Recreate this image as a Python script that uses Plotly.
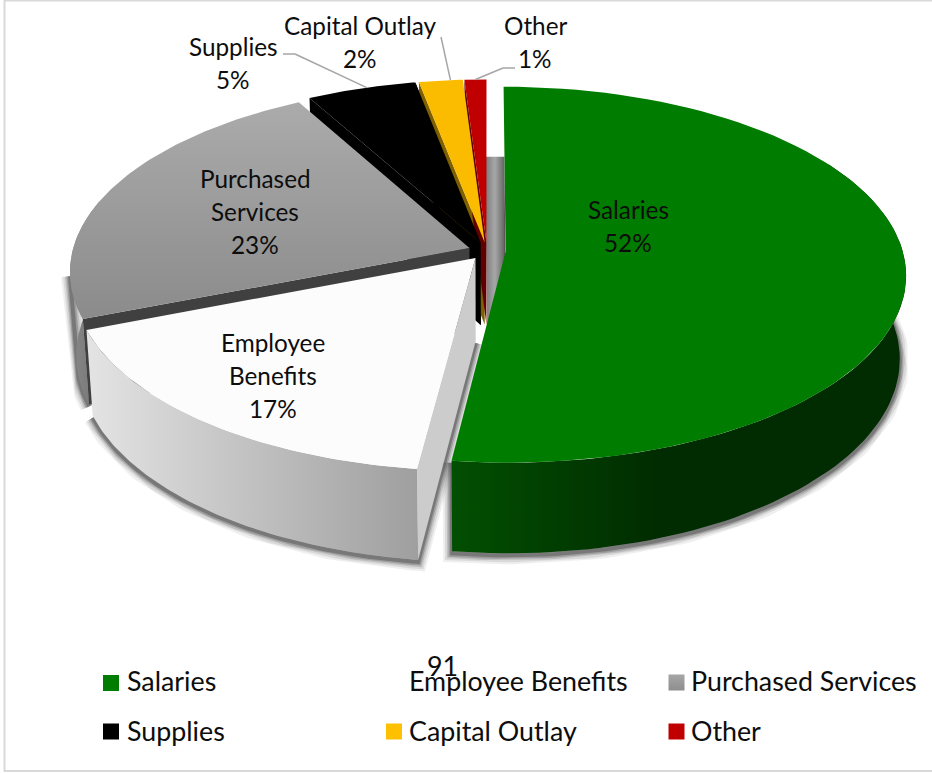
import numpy as np
import plotly.graph_objects as go

# Budget shares by expenditure category
categories = ["Salaries", "Employee Benefits", "Purchased Services", "Supplies", "Capital Outlay", "Other"]
shares = [52, 17, 23, 5, 2, 1]
label_lines = [["Salaries"], ["Employee", "Benefits"], ["Purchased", "Services"],
               ["Supplies"], ["Capital Outlay"], ["Other"]]
footer_text = "91"

# Fill colours
TOP = ["#007d00", "#fcfcfc", None, "#000000", "#fbbc00", "#c00000"]
SWATCH = ["#007d00", "#ffffff", "#a6a6a6", "#000000", "#ffc000", "#c00000"]
FONT = "Lato"
LABEL_SIZE = 24.3
LEGEND_SIZE = 26.8

# Perspective pie geometry, in page pixels
CX, CY = 487.0, 251.0
RX, RY = 397.0, 185.0
DEPTH = 84.0
EXPLODE = 0.047
K_BACK = 0.123
K_DROP = 0.015

cum = np.cumsum([0] + shares) / sum(shares) * 360.0
starts, ends = cum[:-1], cum[1:]


def project(i, theta, r=1.0, z=0.0):
    """Map slice-local polar coordinates to the page; theta runs clockwise from the back."""
    t = np.radians(theta)
    mid = np.radians((starts[i] + ends[i]) / 2)
    x3 = r * np.sin(t) + EXPLODE * np.sin(mid)
    y3 = r * np.cos(t) + EXPLODE * np.cos(mid)
    s = 1.0 / (1.0 + K_BACK * y3 + K_DROP * z)
    return CX + RX * x3 * s, CY - RY * y3 * s + DEPTH * z * s


def arc(i, a, b, z=0.0, n=80):
    return project(i, np.linspace(a, b, n), 1.0, z)


def poly(x, y, color=None, gradient=None):
    kw = dict(fillgradient=gradient) if gradient else dict(fillcolor=color)
    return go.Scatter(x=list(x), y=list(y), mode="lines", fill="toself",
                      line=dict(width=0), hoverinfo="skip", showlegend=False, **kw)


def top_face(i, color=None, gradient=None):
    ax, ay = project(i, starts[i], 0.0)
    x, y = arc(i, starts[i], ends[i])
    return poly(np.r_[ax, x, ax], np.r_[ay, y, ay], color, gradient)


def rim_wall(i, a, b, gradient):
    xt, yt = arc(i, a, b)
    xb, yb = arc(i, a, b, 1.0)
    return poly(np.r_[xt, xb[::-1], xt[0]], np.r_[yt, yb[::-1], yt[0]], gradient=gradient)


def cut_wall(i, theta, color):
    ax, ay = project(i, theta, 0.0)
    bx, by = project(i, theta, 0.0, 1.0)
    rx, ry = project(i, theta, 1.0)
    qx, qy = project(i, theta, 1.0, 1.0)
    return poly([ax, rx, qx, bx, ax], [ay, ry, qy, by, ay], color)


def soft_shadow(x, y):
    """Layered translucent strokes that read as a blurred drop shadow."""
    out = []
    for width, alpha in [(18, 0.07), (14, 0.1), (10, 0.14), (7, 0.2), (4, 0.28)]:
        out.append(go.Scatter(x=list(x), y=list(np.asarray(y) + 2), mode="lines",
                              line=dict(width=width, color=f"rgba(25,25,25,{alpha})"),
                              hoverinfo="skip", showlegend=False))
    return out


def hgrad(*stops):
    return dict(type="horizontal", colorscale=[[p, c] for p, c in stops])


def vgrad(*stops):
    return dict(type="vertical", colorscale=[[p, c] for p, c in stops])


SAL, BEN, PUR, SUP, CAP, OTH = range(6)
traces = []

# Shadow falling on the cut face of the salaries slice
bx0, by0 = project(SAL, 0.0, 1.0, 1.0)
bx1, by1 = project(SAL, 0.0, 0.0, 1.0)
traces.append(poly([bx0 - 18, bx0 + 1, bx1 + 1, bx1 - 18, bx0 - 18],
                   [by0 - 6, by0 - 6, by1 + 8, by1 + 8, by0 - 6],
                   gradient=hgrad((0, "#7a7a7a"), (0.45, "#a8a8a8"), (0.85, "#6e6e6e"), (1, "#3a3a3a"))))

# Rear slices: walls first so the neighbouring top faces can overlap them
traces.append(cut_wall(SUP, ends[SUP], "#000000"))
traces.append(cut_wall(CAP, starts[CAP], "#7f6000"))
traces.append(cut_wall(OTH, starts[OTH], "#600000"))
traces.append(cut_wall(SUP, starts[SUP], "#000000"))
traces.append(top_face(SUP, TOP[SUP]))
traces.append(top_face(CAP, TOP[CAP]))
traces.append(top_face(OTH, TOP[OTH]))

# Purchased services
xb, yb = arc(PUR, 262, starts[PUR], 1.0)
xa, ya = arc(PUR, 262, 262, 0.0, 2)
traces += soft_shadow(np.r_[xa[0], xb], np.r_[ya[0], yb])
traces.append(rim_wall(PUR, starts[PUR], 285, hgrad((0, "#8a8a8a"), (1, "#6e6e6e"))))
traces.append(cut_wall(PUR, starts[PUR], "#404040"))
traces.append(top_face(PUR, gradient=vgrad((0, "#8b8b8b"), (1, "#ababab"))))

# Employee benefits
xb, yb = arc(BEN, starts[BEN], ends[BEN], 1.0)
ix, iy = project(BEN, starts[BEN], 0.0, 1.0)
traces += soft_shadow(np.r_[ix, xb], np.r_[iy, yb])
traces.append(cut_wall(BEN, starts[BEN], "#cccccc"))
traces.append(rim_wall(BEN, starts[BEN], ends[BEN], hgrad((0, "#e4e4e4"), (0.45, "#c4c4c4"), (1, "#9f9f9f"))))
traces.append(top_face(BEN, TOP[BEN]))

# Salaries
xb, yb = arc(SAL, 82, ends[SAL], 1.0)
fx, fy = project(SAL, ends[SAL], 1.0)
traces += soft_shadow(np.r_[xb, fx], np.r_[yb, fy])
traces.append(rim_wall(SAL, 60, ends[SAL], hgrad((0, "#024f02"), (0.25, "#013c01"), (0.45, "#012c01"), (1, "#012c01"))))
traces.append(top_face(SAL, TOP[SAL]))

# Legend swatches
swatch_x = [111, 394, 676.5, 111, 394, 676.5]
swatch_y = [683, 683, 682.5, 731.5, 731.5, 731.5]
traces.append(go.Scatter(
    x=swatch_x, y=swatch_y, mode="markers", hoverinfo="skip", showlegend=False,
    marker=dict(symbol="square", size=16, color=SWATCH, line=dict(width=0),
                gradient=dict(type=["none", "none", "vertical", "none", "none", "none"], color="#8e8e8e"))))

annotations = []


def put_text(x, y, text, size, anchor="center"):
    annotations.append(dict(x=x, y=y, xref="x", yref="y", text=text, showarrow=False,
                            xanchor=anchor, yanchor="middle",
                            font=dict(family=FONT, size=size, color="#0d0d0d")))


# Data labels: name lines followed by the share
label_pos = [(628, 209), (273, 342), (255, 178), (233, 46), (360, 25), (535, 25)]
line_step = 33
for name_lines, share, (lx, ly) in zip(label_lines, shares, label_pos):
    for k, line in enumerate(name_lines + [f"{share}%"]):
        put_text(lx, ly + k * line_step, line, LABEL_SIZE)

# Legend text and the stray page number behind it
legend_x = [125, 407, 689, 125, 407, 689]
legend_y = [681, 681, 681, 731, 731, 731]
for name, lx, ly in zip(categories, legend_x, legend_y):
    put_text(lx, ly, name, LEGEND_SIZE, "left")
put_text(442, 666, footer_text, LEGEND_SIZE)

# Leader lines from outside labels to their slices
shapes = []
leader_color = "#a6a6a6"
for i, frac, elbow in [(SUP, 0.55, [(283, 54), (295, 54)]),
                       (CAP, 0.72, [(441, 37)]),
                       (OTH, 0.5, [(515, 68), (503, 68)])]:
    ex, ey = project(i, starts[i] + frac * (ends[i] - starts[i]))
    pts = elbow + [(float(ex), float(ey))]
    for (x0, y0), (x1, y1) in zip(pts[:-1], pts[1:]):
        shapes.append(dict(type="line", x0=x0, y0=y0, x1=x1, y1=y1, xref="x", yref="y",
                           line=dict(color=leader_color, width=1.5)))

# Outer chart frame
shapes.append(dict(type="rect", x0=4.5, y0=0.5, x1=960, y1=771, xref="x", yref="y",
                   line=dict(color="#d9d9d9", width=2), layer="below"))

fig = go.Figure(traces)
fig.update_layout(
    width=932, height=773, margin=dict(l=0, r=0, t=0, b=0),
    paper_bgcolor="white", plot_bgcolor="white", showlegend=False,
    xaxis=dict(range=[0, 932], visible=False, fixedrange=True),
    yaxis=dict(range=[773, 0], visible=False, fixedrange=True),
    annotations=annotations, shapes=shapes,
)
fig.write_html("out.html", config=dict(displayModeBar=False))
